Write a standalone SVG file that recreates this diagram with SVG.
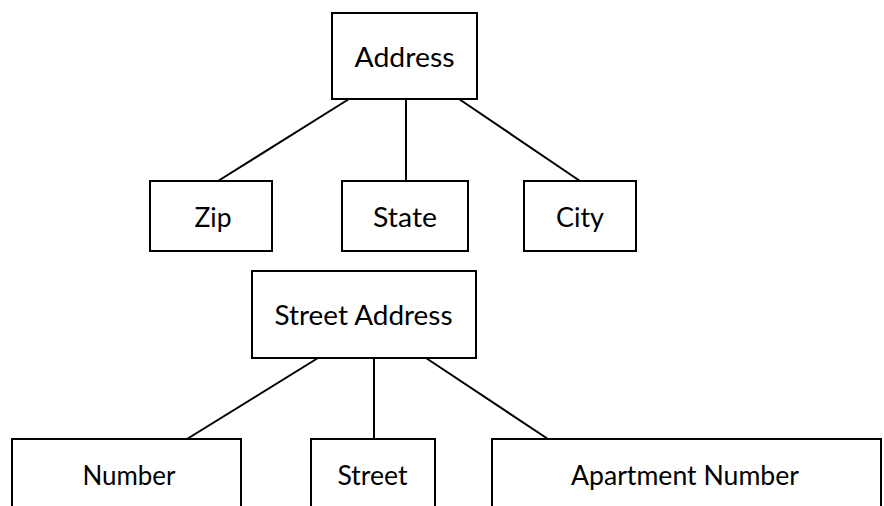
<svg xmlns="http://www.w3.org/2000/svg" width="884" height="506" viewBox="0 0 884 506">
  <style>
    .box { fill: #ffffff; stroke: #000000; stroke-width: 2; }
    .edge { stroke: #000000; stroke-width: 2; fill: none; }
    .label { font-family: "Lato", "Open Sans", "Liberation Sans", sans-serif; font-size: 27px; fill: #000000; text-anchor: middle; }
  </style>
  <rect width="884" height="506" fill="#ffffff"/>

  <!-- connectors -->
  <g id="connectors">
    <line class="edge" x1="349" y1="99" x2="218" y2="181"/>
    <line class="edge" x1="406" y1="99" x2="406" y2="181"/>
    <line class="edge" x1="459" y1="99" x2="580" y2="181"/>
    <line class="edge" x1="318" y1="358" x2="187" y2="439"/>
    <line class="edge" x1="374" y1="358" x2="374" y2="439"/>
    <line class="edge" x1="426" y1="358" x2="548" y2="439"/>
  </g>

  <g id="address">
    <rect class="box" x="332" y="13" width="145" height="86"/>
    <text class="label" x="404.5" y="67" textLength="100" lengthAdjust="spacingAndGlyphs">Address</text>
  </g>
  <g id="zip">
    <rect class="box" x="150" y="181" width="122" height="70"/>
    <text class="label" x="213" y="227" textLength="37" lengthAdjust="spacingAndGlyphs">Zip</text>
  </g>
  <g id="state">
    <rect class="box" x="342" y="181" width="126" height="70"/>
    <text class="label" x="405" y="227" textLength="64" lengthAdjust="spacingAndGlyphs">State</text>
  </g>
  <g id="city">
    <rect class="box" x="524" y="181" width="112" height="70"/>
    <text class="label" x="580" y="227" textLength="48" lengthAdjust="spacingAndGlyphs">City</text>
  </g>
  <g id="street-address">
    <rect class="box" x="252" y="271" width="224" height="87"/>
    <text class="label" x="363.5" y="325" textLength="178" lengthAdjust="spacingAndGlyphs">Street Address</text>
  </g>
  <g id="number">
    <rect class="box" x="12" y="439" width="229" height="90"/>
    <text class="label" x="129" y="485" textLength="93" lengthAdjust="spacingAndGlyphs">Number</text>
  </g>
  <g id="street">
    <rect class="box" x="311" y="439" width="124" height="90"/>
    <text class="label" x="372.5" y="485" textLength="70" lengthAdjust="spacingAndGlyphs">Street</text>
  </g>
  <g id="apartment-number">
    <rect class="box" x="492" y="439" width="389" height="90"/>
    <text class="label" x="685" y="485" textLength="228" lengthAdjust="spacingAndGlyphs">Apartment Number</text>
  </g>
</svg>
